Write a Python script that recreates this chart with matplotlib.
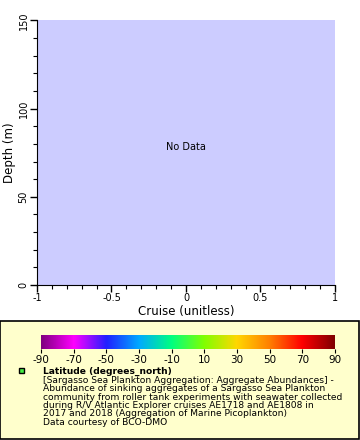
import numpy as np
import matplotlib
matplotlib.use('Agg')
import matplotlib.pyplot as plt
from matplotlib.colors import LinearSegmentedColormap
from matplotlib.patches import Rectangle
from matplotlib.ticker import MultipleLocator

# data (the query returned nothing, so the mark arrays are empty)
cruise = []
depth = []
latitude = []
x_range = [-1, 1]
depth_range = [0, 150]
x_ticks = [-1, -0.5, 0, 0.5, 1]
x_ticklabels = ['-1', '-0.5', '0', '0.5', '1']
y_ticks = [0, 50, 100, 150]
lat_range = [-90, 90]
lat_ticks = [-90, -70, -50, -30, -10, 10, 30, 50, 70, 90]
legend_title = 'Latitude (degrees_north)'
legend_lines = [
    '[Sargasso Sea Plankton Aggregation: Aggregate Abundances] -',
    'Abundance of sinking aggregates of a Sargasso Sea Plankton',
    'community from roller tank experiments with seawater collected',
    'during R/V Atlantic Explorer cruises AE1718 and AE1808 in',
    '2017 and 2018 (Aggregation of Marine Picoplankton)',
    'Data courtesy of BCO-DMO',
]

# rainbow-ish palette like the erddap one
pal = ['#800080', '#ff00ff', '#2020ff', '#00aaff', '#00ff80',
       '#80ff00', '#ffd700', '#ff8000', '#ff0000', '#800000']
cmap = LinearSegmentedColormap.from_list('rainbow2', pal)

plt.rcParams['font.family'] = 'DejaVu Sans'
plt.rcParams['axes.unicode_minus'] = False
fig = plt.figure(figsize=(3.6, 4.4), dpi=100)
H = 440.0

ax = fig.add_axes([37/360, 155/H, 298/360, 264.5/H])
ax.set_facecolor('#ccccff')
ax.scatter(cruise, depth, c=latitude, cmap=cmap, vmin=lat_range[0], vmax=lat_range[1])
ax.set_xlim(x_range)
ax.set_ylim(depth_range)
ax.set_xticks(x_ticks)
ax.set_xticklabels(x_ticklabels)
ax.set_yticks(y_ticks)
ax.xaxis.set_minor_locator(MultipleLocator(0.1))
ax.yaxis.set_minor_locator(MultipleLocator(10))
ax.tick_params(which='major', length=5, width=1, labelsize=7, pad=1)
ax.tick_params(which='minor', length=3, width=0.8)
for lab in ax.get_yticklabels():
    lab.set_rotation(90)
    lab.set_va('center')
ax.set_xlabel('Cruise (unitless)', fontsize=8.5, labelpad=1)
ax.set_ylabel('Depth (m)', fontsize=8.5, labelpad=2)
ax.text(0.5, 0.52, 'No Data', transform=ax.transAxes, ha='center', va='center', fontsize=7)
for s in ['top', 'right']:
    ax.spines[s].set_visible(False)

# legend box (behind the colorbar axes)
box = Rectangle((0, 1/H), 359/360, 118/H, transform=fig.transFigure,
                facecolor='#ffffcc', edgecolor='black', linewidth=1.2, zorder=-5)
fig.patches.append(box)

cax = fig.add_axes([41/360, 91/H, 294/360, 14/H])
grad = np.linspace(lat_range[0], lat_range[1], 256).reshape(1, -1)
cax.imshow(grad, aspect='auto', cmap=cmap, extent=[lat_range[0], lat_range[1], 0, 1])
cax.set_xticks(lat_ticks)
cax.set_yticks([])
cax.tick_params(axis='x', length=3, labelsize=7.5, pad=1)
for s in cax.spines.values():
    s.set_visible(False)

fig.patches.append(Rectangle((19/360, (H-373)/H), 5/360, 5/H, transform=fig.transFigure,
                             facecolor='#44ee44', edgecolor='black', linewidth=1, zorder=5))
fig.text(43/360, (H-371)/H, legend_title, fontsize=6.6, fontweight='bold', va='center')
fig.text(43/360, (H-376)/H, '\n'.join(legend_lines), fontsize=6.6, va='top',
         linespacing=0.9)

fig.savefig('out.png', dpi=100)
